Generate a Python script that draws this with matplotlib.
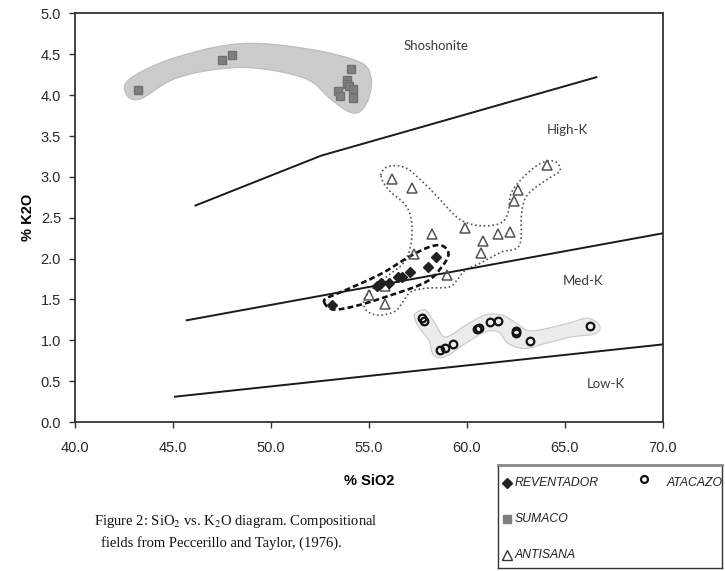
import numpy as np
import matplotlib
matplotlib.use("Agg")
from matplotlib import pyplot as plt

plt.rcParams['font.family'] = ['Liberation Sans', 'DejaVu Sans']
plt.rcParams['mathtext.fontset'] = 'stix'

# sample data (SiO2 %, K2O %)
reventador_x = [53.1, 55.4, 55.6, 56.0, 56.5, 56.7, 57.1, 58.0, 58.4]
reventador_y = [1.43, 1.67, 1.70, 1.70, 1.77, 1.78, 1.84, 1.90, 2.02]

sumaco_x = [43.2, 47.5, 48.0, 54.1, 53.9, 53.9, 54.0, 53.4, 53.5, 54.2, 54.2]
sumaco_y = [4.06, 4.43, 4.49, 4.32, 4.18, 4.14, 4.11, 4.05, 3.99, 4.07, 3.96]

antisana_x = [56.2, 57.2, 64.1, 62.6, 62.4, 59.9, 58.2, 60.8, 61.6, 62.2,
              60.7, 57.3, 59.0, 55.0, 55.8, 55.8]
antisana_y = [2.98, 2.86, 3.14, 2.84, 2.70, 2.37, 2.30, 2.22, 2.30, 2.33,
              2.07, 2.06, 1.80, 1.55, 1.67, 1.44]

atacazo_x = [57.7, 57.8, 58.6, 58.9, 59.3, 60.5, 60.6, 61.2, 61.6, 62.5, 62.5, 63.2, 66.3]
atacazo_y = [1.27, 1.24, 0.88, 0.90, 0.96, 1.14, 1.15, 1.22, 1.24, 1.09, 1.11, 0.99, 1.18]

# Peccerillo & Taylor boundaries
low_med_x, low_med_y = [45.1, 70.0], [0.31, 0.95]
med_high_x, med_high_y = [45.7, 70.0], [1.245, 2.31]
high_sho_x, high_sho_y = [46.15, 52.56, 66.6], [2.65, 3.26, 4.22]

# field outlines (vertices)
sumaco_field = [(42.80, 4.20), (44.98, 4.45), (48.39, 4.63), (51.79, 4.57), (54.49, 4.41),
                (55.1, 4.22), (55.0, 3.97), (54.55, 3.80), (53.95, 3.80), (53.05, 3.95),
                (51.79, 4.20), (49.25, 4.33), (47.02, 4.31), (44.98, 4.19), (43.30, 3.95),
                (42.60, 4.02)]
atacazo_field = [(57.37, 1.33), (57.88, 1.37), (58.39, 1.20), (58.90, 1.04), (59.91, 1.18),
                 (60.93, 1.31), (61.77, 1.31), (62.46, 1.22), (63.13, 1.12), (63.98, 1.14),
                 (65.33, 1.22), (66.18, 1.27), (66.78, 1.18), (66.52, 1.08), (65.33, 1.04),
                 (63.98, 0.96), (62.96, 0.90), (62.11, 0.96), (61.61, 1.10), (60.93, 1.10),
                 (59.91, 0.96), (58.90, 0.80), (58.30, 0.82), (58.05, 1.00), (57.54, 1.16),
                 (57.34, 1.27)]
antisana_field = [(55.61, 3.02), (56.01, 3.13), (56.88, 3.11), (57.69, 2.95), (58.56, 2.74),
                  (59.42, 2.52), (60.08, 2.43), (60.95, 2.40), (61.76, 2.44), (62.11, 2.57),
                  (62.27, 2.81), (62.98, 3.02), (63.79, 3.17), (64.50, 3.19), (64.76, 3.08),
                  (64.30, 3.00), (63.49, 2.87), (62.98, 2.74), (62.78, 2.53), (62.67, 2.16),
                  (61.76, 2.08), (60.74, 1.95), (59.93, 1.86), (59.47, 1.73), (59.06, 1.65),
                  (58.05, 1.64), (57.18, 1.60), (56.78, 1.49), (56.42, 1.37), (55.91, 1.32),
                  (55.35, 1.31), (54.85, 1.37), (54.74, 1.49), (55.10, 1.61), (56.01, 1.80),
                  (56.78, 1.95), (57.13, 2.16), (57.18, 2.44), (56.88, 2.65), (56.01, 2.84)]
reventador_field = [(52.71, 1.47), (53.13, 1.38), (54.15, 1.41), (55.84, 1.53), (57.88, 1.71),
                    (58.72, 1.90), (59.06, 2.06), (58.72, 2.16), (58.05, 2.14), (57.03, 2.02),
                    (55.67, 1.82), (54.15, 1.65), (52.96, 1.53)]

field_labels = ["Shoshonite", "High-K", "Med-K", "Low-K"]
label_pos = [(58.4, 4.6), (65.1, 3.58), (65.9, 1.72), (67.1, 0.47)]


def smooth_closed(pts, n=16):
    ''' closed Catmull-Rom curve through the outline vertices '''
    p = np.array(pts, dtype=float)
    k = len(p)
    t = np.linspace(0, 1, n, endpoint=False)[:, None]
    out = []
    for i in range(k):
        p0, p1, p2, p3 = p[i - 1], p[i], p[(i + 1) % k], p[(i + 2) % k]
        seg = 0.5 * ((2 * p1) + (-p0 + p2) * t + (2 * p0 - 5 * p1 + 4 * p2 - p3) * t ** 2
                     + (-p0 + 3 * p1 - 3 * p2 + p3) * t ** 3)
        out.append(seg)
    out = np.vstack(out)
    return np.vstack([out, out[:1]])


fig = plt.figure(figsize=(7.25, 5.71), dpi=100)
ax = fig.add_axes([0.1034, 0.2609, 0.8110, 0.7155])

# fields
s = smooth_closed(sumaco_field)
ax.fill(s[:, 0], s[:, 1], color='#cccccc', ec='#bbbbbb', lw=0.8, zorder=1)
s = smooth_closed(atacazo_field)
ax.fill(s[:, 0], s[:, 1], color='#ececec', ec='#c8c8c8', lw=0.8, zorder=1)
s = smooth_closed(antisana_field)
ax.plot(s[:, 0], s[:, 1], color='#555555', lw=1.2, ls=(0, (1, 1.6)), zorder=2)
s = smooth_closed(reventador_field)
ax.plot(s[:, 0], s[:, 1], color='#111111', lw=1.9, ls=(0, (2.2, 1.2)), zorder=2)

# boundaries
for bx, by in [(low_med_x, low_med_y), (med_high_x, med_high_y), (high_sho_x, high_sho_y)]:
    ax.plot(bx, by, color='#1a1a1a', lw=1.4, zorder=3)

for lab, (lx, ly) in zip(field_labels, label_pos):
    ax.text(lx, ly, lab, ha='center', va='center', fontsize=9.5, color='#3a3a3a',
            family=['Lato', 'DejaVu Sans'])

# samples
ax.plot(sumaco_x, sumaco_y, 's', color='#7f7f7f', ms=6, mec='#707070', zorder=4)
ax.plot(antisana_x, antisana_y, '^', mfc='none', mec='#555555', mew=1.1, ms=7.5, zorder=4)
ax.plot(reventador_x, reventador_y, 'D', color='#222222', ms=5.5, zorder=5)
ax.plot(atacazo_x, atacazo_y, 'o', mfc='none', mec='#111111', mew=1.6, ms=5.5, zorder=5)

ax.set_xlim(40, 70)
ax.set_ylim(0, 5)
ax.set_xticks(np.arange(40, 70.1, 5))
ax.set_yticks(np.arange(0, 5.01, 0.5))
ax.xaxis.set_major_formatter(matplotlib.ticker.FormatStrFormatter('%.1f'))
ax.yaxis.set_major_formatter(matplotlib.ticker.FormatStrFormatter('%.1f'))
ax.tick_params(direction='out', length=4, width=1, color='#333333', labelsize=10.5,
               labelcolor='#2a2a2a')
ax.tick_params(axis='x', pad=10)
ax.tick_params(axis='y', pad=6)
for sp in ax.spines.values():
    sp.set_color('#333333')
    sp.set_linewidth(1.3)

ax.set_xlabel("% SiO2", fontsize=10.5, fontweight='bold', labelpad=13)
ax.set_ylabel("% K2O", fontsize=10.5, fontweight='bold', labelpad=4)

# legend box
lg = fig.add_axes([0.6869, 0.0053, 0.3090, 0.1804])
lg.set_xlim(0, 1)
lg.set_ylim(0, 1)
lg.set_xticks([])
lg.set_yticks([])
for sp in lg.spines.values():
    sp.set_color('#333333')
    sp.set_linewidth(1.0)
lg.spines['top'].set_color('#888888')
lg.spines['top'].set_linewidth(2.0)
lg.plot([0.04], [0.825], 'D', color='#222222', ms=5)
lg.plot([0.04], [0.476], 's', color='#7f7f7f', ms=6)
lg.plot([0.04], [0.126], '^', mfc='none', mec='#333333', mew=1.0, ms=7)
lg.plot([0.652], [0.864], 'o', mfc='none', mec='#111111', mew=1.6, ms=5)
for tx, ty, name in [(0.076, 0.825, "REVENTADOR"), (0.076, 0.476, "SUMACO"),
                     (0.076, 0.126, "ANTISANA"), (0.754, 0.825, "ATACAZO")]:
    lg.text(tx, ty, name, ha='left', va='center', fontsize=8.8, style='italic', color='#222222')

# caption
cap = dict(fontsize=10.5, family=['Liberation Serif', 'DejaVu Serif'], color='#111111', va='center')
fig.text(94 / 725, 1 - 521 / 571, "Figure 2: SiO$_2$ vs. K$_2$O diagram. Compositional", **cap)
fig.text(101 / 725, 1 - 543 / 571, "fields from Peccerillo and Taylor, (1976).", **cap)

fig.savefig("out.png", dpi=100)
